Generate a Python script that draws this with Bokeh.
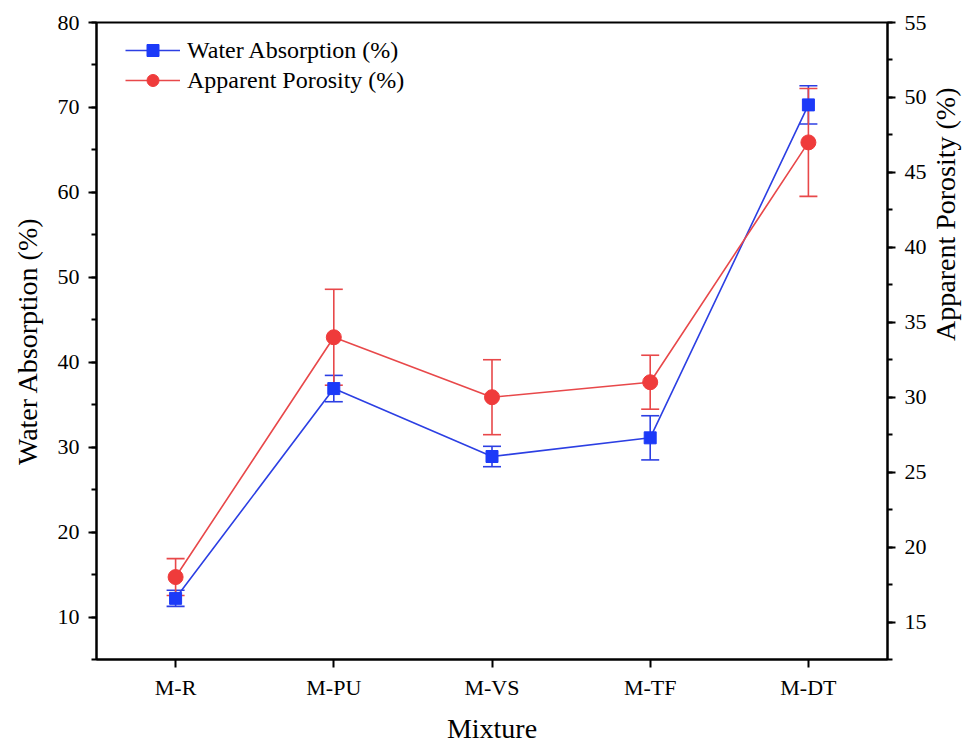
import math
from bokeh.plotting import figure
from bokeh.models import (ColumnDataSource, FactorRange, Range1d, LinearAxis, Whisker, TeeHead,
                          SingleIntervalTicker, Legend, LegendItem)
from bokeh.embed import file_html
from bokeh.resources import INLINE

categories = ["M-R", "M-PU", "M-VS", "M-TF", "M-DT"]
water_abs = [12.2, 36.9, 28.9, 31.1, 70.3]
water_err = [0.95, 1.55, 1.2, 2.6, 2.25]
porosity = [18.0, 34.0, 30.0, 31.0, 47.0]
porosity_err = [1.23, 3.2, 2.5, 1.8, 3.6]

FONT = "Liberation Serif"
BLUE_LINE = "#2C3FE3"
BLUE_MARK = "#1C3AF8"
RED_LINE = "#E8484A"
RED_MARK = "#EF3B3B"

src_w = ColumnDataSource(dict(x=categories, y=water_abs,
                              lo=[v - e for v, e in zip(water_abs, water_err)],
                              hi=[v + e for v, e in zip(water_abs, water_err)]))
src_p = ColumnDataSource(dict(x=categories, y=porosity,
                              lo=[v - e for v, e in zip(porosity, porosity_err)],
                              hi=[v + e for v, e in zip(porosity, porosity_err)]))

p = figure(width=979, height=746, x_range=FactorRange(*categories),
           y_range=Range1d(5, 80), output_backend="svg", toolbar_location=None,
           min_border_left=96, min_border_right=92, min_border_top=22, min_border_bottom=86)
p.extra_y_ranges = {"right": Range1d(12.5, 55)}

p.xgrid.visible = False
p.ygrid.visible = False
p.outline_line_color = "black"
p.outline_line_width = 2
p.background_fill_color = "white"
p.border_fill_color = "white"

# Left axis
ya = p.yaxis[0]
ya.ticker = SingleIntervalTicker(interval=10, num_minor_ticks=2)
ya.axis_label = "Water Absorption (%)"

# Right axis
yr = LinearAxis(y_range_name="right", axis_label="Apparent Porosity (%)",
                ticker=SingleIntervalTicker(interval=5, num_minor_ticks=2))
p.add_layout(yr, "right")

xa = p.xaxis[0]
xa.axis_label = "Mixture"

for ax in [ya, yr, xa]:
    ax.axis_line_color = "black"
    ax.axis_line_width = 2
    ax.major_tick_line_color = "black"
    ax.major_tick_line_width = 2
    ax.major_tick_out = 8
    ax.major_tick_in = 0
    ax.minor_tick_line_color = "black"
    ax.minor_tick_line_width = 2
    ax.minor_tick_out = 5
    ax.minor_tick_in = 0
    ax.major_label_text_font = FONT
    ax.major_label_text_font_size = "22px"
    ax.major_label_text_color = "black"
    ax.axis_label_text_font = FONT
    ax.axis_label_text_font_size = "28px"
    ax.axis_label_text_font_style = "normal"
    ax.axis_label_text_color = "black"
    ax.major_label_standoff = 9

ya.axis_label_standoff = 12
yr.axis_label_standoff = 16
xa.major_label_standoff = 7
xa.axis_label_standoff = 10
try:
    yr.axis_label_orientation = math.pi / 2
except Exception:
    pass

# Water absorption (left)
lw = p.line("x", "y", source=src_w, line_color=BLUE_LINE, line_width=1.6)
ww = Whisker(base="x", upper="hi", lower="lo", source=src_w, dimension="height",
             line_color=BLUE_LINE, line_width=1.6,
             upper_head=TeeHead(size=18, line_color=BLUE_LINE, line_width=1.6),
             lower_head=TeeHead(size=18, line_color=BLUE_LINE, line_width=1.6))
p.add_layout(ww)
sw = p.scatter("x", "y", source=src_w, marker="square", size=12,
               fill_color=BLUE_MARK, line_color=BLUE_MARK)

# Apparent porosity (right)
lp = p.line("x", "y", source=src_p, line_color=RED_LINE, line_width=1.6, y_range_name="right")
wp = Whisker(base="x", upper="hi", lower="lo", source=src_p, dimension="height",
             y_range_name="right", line_color=RED_LINE, line_width=1.6,
             upper_head=TeeHead(size=18, line_color=RED_LINE, line_width=1.6),
             lower_head=TeeHead(size=18, line_color=RED_LINE, line_width=1.6))
p.add_layout(wp)
sp = p.scatter("x", "y", source=src_p, marker="circle", size=15,
               fill_color=RED_MARK, line_color=RED_MARK, y_range_name="right")

legend = Legend(items=[LegendItem(label="Water Absorption (%)", renderers=[lw, sw]),
                       LegendItem(label="Apparent Porosity (%)", renderers=[lp, sp])],
                location=(29, 564), orientation="vertical",
                label_text_font=FONT, label_text_font_size="24px", label_text_color="black",
                glyph_width=55, glyph_height=30, label_height=30, label_standoff=7,
                spacing=0, padding=0, margin=0,
                border_line_color=None, background_fill_alpha=0)
p.add_layout(legend, "center")

open("out.html", "w").write(file_html(p, INLINE))
